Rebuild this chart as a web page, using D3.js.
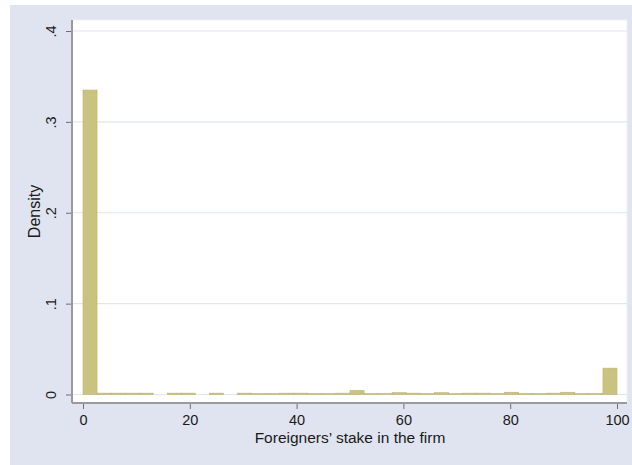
<!DOCTYPE html>
<html>
<head>
<meta charset="utf-8">
<script src="https://cdn.jsdelivr.net/npm/d3@7"></script>
<style>
  html, body { margin: 0; padding: 0; background: #ffffff; }
  text { font-family: "Liberation Sans", Arial, sans-serif; fill: #1a1a1a; }
</style>
</head>
<body>
<div id="hist-chart"></div>
<script>
// histogram of foreign stake: 38 bins from 0 to 100, heights are densities
const binEdgesMin = 0;
const binEdgesMax = 100;
const densities = [
  0.335, 0.0015, 0.0015, 0.0015, 0.0015, 0, 0.0015, 0.0015, 0, 0.0015,
  0, 0.0015, 0.001, 0.001, 0.0015, 0.0015, 0.001, 0.001, 0.0015, 0.0045,
  0.001, 0.001, 0.002, 0.0015, 0.001, 0.002, 0.001, 0.0015, 0.0015, 0.001,
  0.0025, 0.001, 0.001, 0.0015, 0.0025, 0.001, 0.001, 0.029
];
const xTicks = [0, 20, 40, 60, 80, 100];
const yTicks = [0, 0.1, 0.2, 0.3, 0.4];
const yTickLabels = ['0', '.1', '.2', '.3', '.4'];
const xTitle = "Foreigners\u2019 stake in the firm";
const yTitle = "Density";

const chartWidth = 632, chartHeight = 465;
const plotBox = { left: 72, right: 627, top: 20, bottom: 403 };

const svg = d3.select("#hist-chart")
    .append("svg")
    .attr("width", chartWidth)
    .attr("height", chartHeight);

// graph region
svg.append("rect")
    .attr("x", 10).attr("y", 5)
    .attr("width", chartWidth - 10).attr("height", chartHeight - 5)
    .attr("fill", "#e0e4f0");

// plot region
svg.append("rect")
    .attr("x", plotBox.left).attr("y", plotBox.top)
    .attr("width", plotBox.right - plotBox.left)
    .attr("height", plotBox.bottom - plotBox.top)
    .attr("fill", "#ffffff")
    .attr("stroke", "#eef0f6");

const x = d3.scaleLinear().domain([binEdgesMin, binEdgesMax]).range([83, 617]);
const y = d3.scaleLinear().domain([0, 0.4]).range([394.5, 31]);

// gridlines
svg.append("g")
    .selectAll("line")
    .data(yTicks)
    .join("line")
    .attr("x1", plotBox.left).attr("x2", plotBox.right)
    .attr("y1", d => y(d)).attr("y2", d => y(d))
    .attr("stroke", "#e1e6f1")
    .attr("stroke-width", 1.2);

// bars
const binWidth = (binEdgesMax - binEdgesMin) / densities.length;
svg.append("g")
    .selectAll("rect")
    .data(densities)
    .join("rect")
    .attr("x", (d, i) => x(binEdgesMin + i * binWidth))
    .attr("width", x(binWidth) - x(0))
    .attr("y", d => y(d))
    .attr("height", d => y(0) - y(d))
    .attr("fill", "#cac37f")
    .attr("stroke", d => d > 0 ? "#bdb46c" : "none")
    .attr("stroke-width", 0.6);

// y axis
const yAxis = svg.append("g")
    .attr("transform", `translate(${plotBox.left},0)`)
    .call(d3.axisLeft(y).tickValues(yTicks).tickFormat((d, i) => yTickLabels[i]).tickSize(6).tickPadding(6));
yAxis.select(".domain").remove();
yAxis.selectAll(".tick line").attr("stroke", "#6e6e6e");
yAxis.selectAll(".tick text")
    .attr("transform", "rotate(-90)")
    .attr("x", 0).attr("y", -16)
    .attr("dy", "0")
    .attr("text-anchor", "middle")
    .style("font-size", "14.5px");
svg.append("line")
    .attr("x1", plotBox.left).attr("x2", plotBox.left)
    .attr("y1", plotBox.top).attr("y2", plotBox.bottom)
    .attr("stroke", "#9a9a9a").attr("stroke-width", 2);

// x axis
const xAxis = svg.append("g")
    .attr("transform", `translate(0,${plotBox.bottom})`)
    .call(d3.axisBottom(x).tickValues(xTicks).tickFormat(d3.format("d")).tickSize(6).tickPadding(6));
xAxis.select(".domain").remove();
xAxis.selectAll(".tick line").attr("stroke", "#6e6e6e");
xAxis.selectAll(".tick text").style("font-size", "14.5px");
svg.append("line")
    .attr("x1", plotBox.left).attr("x2", plotBox.right)
    .attr("y1", plotBox.bottom).attr("y2", plotBox.bottom)
    .attr("stroke", "#9a9a9a").attr("stroke-width", 2);

// titles
svg.append("text")
    .attr("x", (x(0) + x(100)) / 2)
    .attr("y", 443)
    .attr("text-anchor", "middle")
    .style("font-size", "15.5px")
    .text(xTitle);

svg.append("text")
    .attr("transform", `translate(40,${(plotBox.top + plotBox.bottom) / 2}) rotate(-90)`)
    .attr("text-anchor", "middle")
    .style("font-size", "16px")
    .text(yTitle);
</script>
</body>
</html>
